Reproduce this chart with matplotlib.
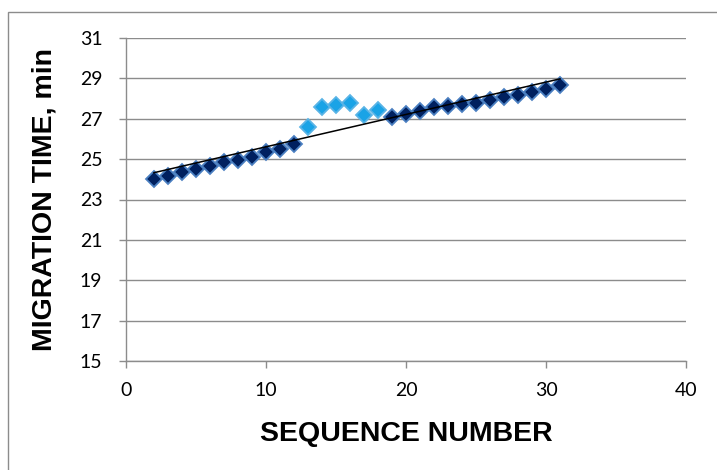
import matplotlib
matplotlib.use("Agg")
import matplotlib.pyplot as plt
import numpy as np
from matplotlib.patches import Rectangle

# Sequence number vs migration time
seq_main = [2, 3, 4, 5, 6, 7, 8, 9, 10, 11, 12,
            19, 20, 21, 22, 23, 24, 25, 26, 27, 28, 29, 30, 31]
time_main = [24.0, 24.14, 24.35, 24.53, 24.67, 24.88, 24.97, 25.13, 25.33, 25.5, 25.74,
             27.08, 27.26, 27.37, 27.58, 27.65, 27.71, 27.8, 27.92, 28.08, 28.2, 28.33, 28.45, 28.67]

# Runs that drifted away from the trend
seq_out = [13, 14, 15, 16, 17, 18]
time_out = [26.57, 27.56, 27.7, 27.8, 27.18, 27.41]

x_ticks = [0, 10, 20, 30, 40]
y_ticks = [15, 17, 19, 21, 23, 25, 27, 29, 31]

GRID = "#8c8c8c"

fig = plt.figure(figsize=(7.17, 4.70), dpi=100)
ax = fig.add_axes([126 / 717, 1 - 361 / 470, (686 - 126) / 717, (361 - 38) / 470])

# chart area border (top and left edges visible)
fig.patches.append(Rectangle((8 / 717, -0.1), 1.2, 1 - 12 / 470 + 0.1,
                             transform=fig.transFigure, fill=False,
                             edgecolor="#8c8c8c", linewidth=1.0))

# linear trend over all runs
all_x = np.array(seq_main + seq_out)
all_y = np.array(time_main + time_out)
slope, intercept = np.polyfit(all_x, all_y, 1)
tx = np.array([all_x.min(), all_x.max()])
ax.plot(tx, slope * tx + intercept, color="black", lw=1.1, zorder=4)

ax.plot(seq_main, time_main, linestyle="none", marker="D", ms=7.8,
        markerfacecolor="#00205f", markeredgecolor="#4a7fc1", markeredgewidth=1.3, zorder=3)
ax.plot(seq_out, time_out, linestyle="none", marker="D", ms=7.8,
        markerfacecolor="#1aa3e6", markeredgecolor="#5ab4e6", markeredgewidth=1.3, zorder=3)

ax.set_xlim(0, 40)
ax.set_ylim(15, 31)
ax.set_xticks(x_ticks)
ax.set_yticks(y_ticks)
ax.yaxis.grid(True, color=GRID, linewidth=1.0)
ax.set_axisbelow(True)

for side in ("top", "right"):
    ax.spines[side].set_visible(False)
for side in ("left", "bottom"):
    ax.spines[side].set_color(GRID)
    ax.spines[side].set_linewidth(1.0)

ax.tick_params(axis="both", direction="out", length=5, width=1.0, color=GRID,
               labelsize=14, labelcolor="black")
ax.tick_params(axis="x", pad=10)
ax.tick_params(axis="y", pad=12)
for lbl in ax.get_xticklabels() + ax.get_yticklabels():
    lbl.set_family("Lato")

ax.set_xlabel("SEQUENCE NUMBER", fontsize=20.5, fontweight="bold",
              family="Liberation Sans", labelpad=16)
ax.set_ylabel("MIGRATION TIME, min", fontsize=20.5, fontweight="bold",
              family="Liberation Sans", labelpad=16)

fig.savefig("out.png", dpi=100)
